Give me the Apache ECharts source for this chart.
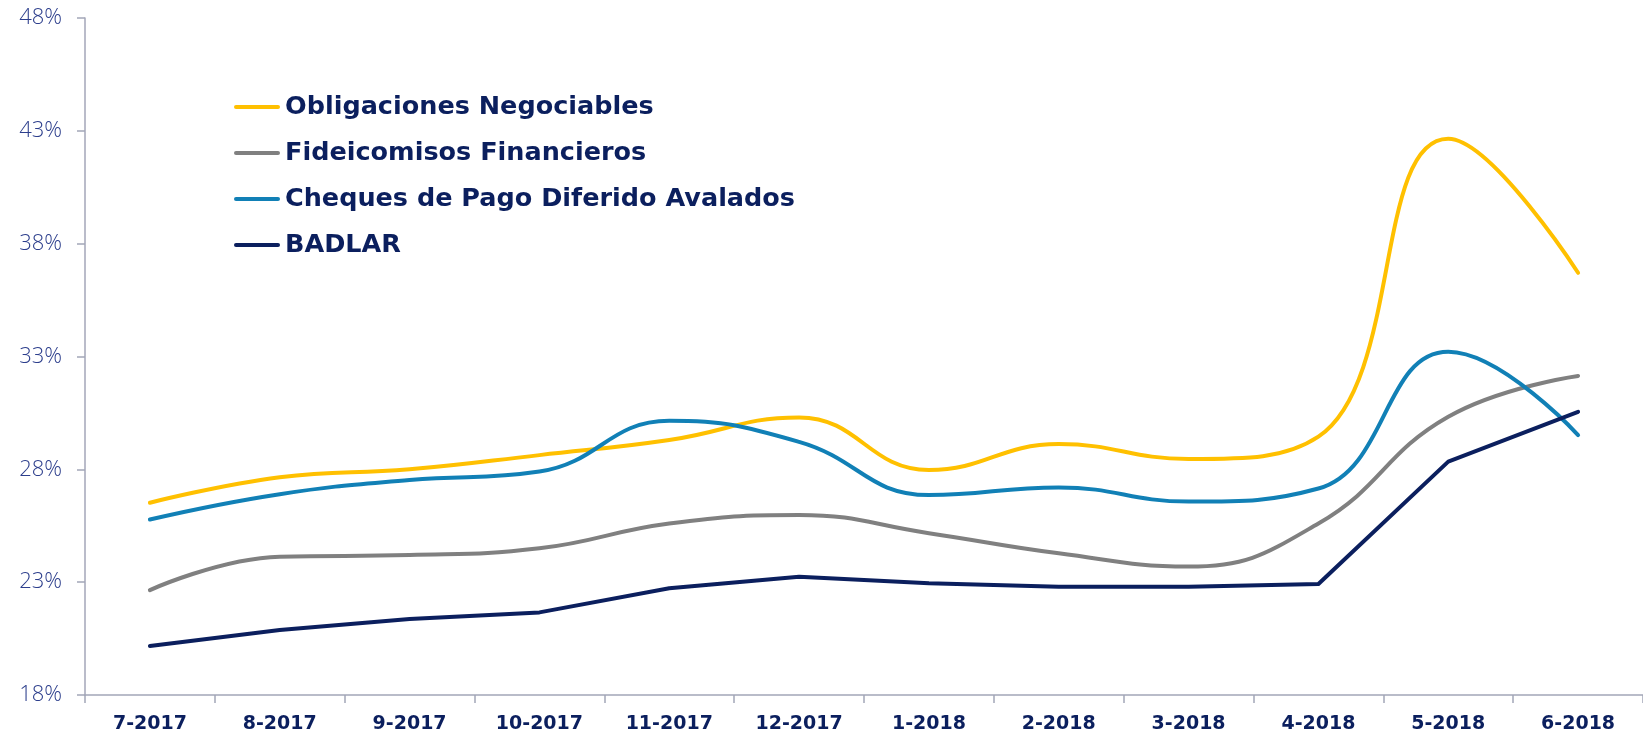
<!DOCTYPE html>
<html>
<head>
<meta charset="utf-8">
<script src="https://cdn.jsdelivr.net/npm/echarts@6/dist/echarts.min.js"></script>
<style>
html,body{margin:0;padding:0;background:#fff;}
#chart{width:1643px;height:740px;}
</style>
</head>
<body>
<div id="chart"></div>
<script>
const categories = ['7-2017','8-2017','9-2017','10-2017','11-2017','12-2017','1-2018','2-2018','3-2018','4-2018','5-2018','6-2018'];
const obligaciones = [26.52, 27.65, 28.0, 28.63, 29.3, 30.3, 27.97, 29.12, 28.46, 29.45, 42.65, 36.71];
const fideicomisos = [22.65, 24.13, 24.2, 24.5, 25.6, 25.98, 25.17, 24.28, 23.69, 25.6, 30.33, 32.14];
const cheques = [25.78, 26.9, 27.53, 27.9, 30.15, 29.22, 26.86, 27.2, 26.57, 27.15, 33.21, 29.52];
const badlar = [20.17, 20.88, 21.37, 21.66, 22.73, 23.24, 22.95, 22.8, 22.8, 22.92, 28.34, 30.55];
const seriesNames = ['Obligaciones Negociables','Fideicomisos Financieros','Cheques de Pago Diferido Avalados','BADLAR'];
const yMin = 18, yMax = 48, yStep = 5;

const colors = ['#FFC000','#808080','#1180B6','#0B1F5E'];
const chart = echarts.init(document.getElementById('chart'));
const axisColor = '#A3A6B8';
function mk(name, data, color, smooth){
  return {name:name, type:'line', data:data, smooth:smooth, showSymbol:false, symbol:'none',
    lineStyle:{color:color, width:4, cap:'round', join:'round'}, itemStyle:{color:color}};
}
chart.setOption({
  animation:false,
  grid:{left:85, top:18, width:1567, height:677, containLabel:false},
  legend:{
    orient:'vertical', left:229, top:89, itemGap:20, itemWidth:46, itemHeight:4,
    icon:'path://M2,0 H44 A2,2 0 0 1 44,4 H2 A2,2 0 0 1 2,0 Z',
    textStyle:{color:'#0B1F5E', fontFamily:'DejaVu Sans', fontWeight:'bold', fontSize:25.5, lineHeight:23},
    data:seriesNames
  },
  xAxis:{
    type:'category', data:categories, boundaryGap:true,
    axisLine:{lineStyle:{color:axisColor, width:1.5}},
    axisTick:{show:true, length:8, lineStyle:{color:axisColor, width:1.5}},
    axisLabel:{color:'#0B1F5E', fontFamily:'DejaVu Sans', fontWeight:'bold', fontSize:19, margin:20, interval:0}
  },
  yAxis:{
    type:'value', min:yMin, max:yMax, interval:yStep,
    axisLine:{show:true, lineStyle:{color:axisColor, width:1.5}},
    axisTick:{show:true, length:8, lineStyle:{color:axisColor, width:1.5}},
    splitLine:{show:false},
    axisLabel:{formatter:'{value}%', color:'#2C3E8C', fontFamily:'Open Sans', fontWeight:300, fontSize:22, margin:23}
  },
  series:[
    mk(seriesNames[0], obligaciones, colors[0], 0.45),
    mk(seriesNames[1], fideicomisos, colors[1], 0.45),
    mk(seriesNames[2], cheques, colors[2], 0.45),
    mk(seriesNames[3], badlar, colors[3], false)
  ]
});
</script>
</body>
</html>
